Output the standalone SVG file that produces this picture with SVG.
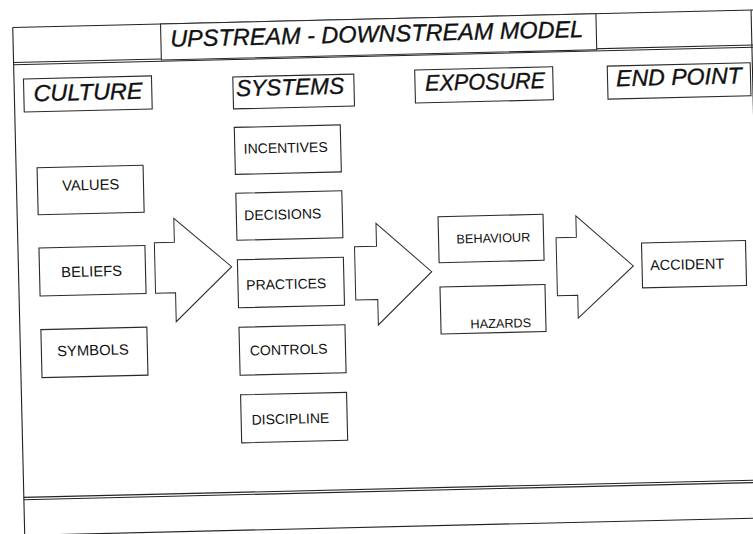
<svg xmlns="http://www.w3.org/2000/svg" width="753" height="534" viewBox="0 0 753 534">
<style>
.frame{fill:none;stroke:#222;stroke-width:1.1}
.box{fill:#fff;stroke:#2a2a2a;stroke-width:1.1}
.arrow{fill:#fff;stroke:#2a2a2a;stroke-width:1;stroke-linejoin:miter}
.h{font-family:"Liberation Sans",Arial,sans-serif;font-style:italic;fill:#111;stroke:#111;stroke-width:0.35;text-anchor:middle}
.t{font-family:"Liberation Sans",Arial,sans-serif;fill:#111;text-anchor:middle}
</style>
<rect width="753" height="534" fill="#fff"/>
<g transform="rotate(-1.35 376 267)">
<g id="frame">
<line class="frame" x1="18.5" y1="19" x2="760" y2="19"/>
<line class="frame" x1="18.5" y1="19" x2="18.5" y2="545"/>
<line class="frame" x1="757" y1="19" x2="757" y2="545"/>
<line class="frame" x1="18.5" y1="54" x2="760" y2="54"/>
<line class="frame" x1="18.5" y1="56.2" x2="760" y2="56.2" stroke="#555"/>
<line class="frame" x1="18.5" y1="489" x2="760" y2="489"/>
<line class="frame" x1="18.5" y1="491.4" x2="760" y2="491.4"/>
<line class="frame" x1="18.5" y1="527" x2="760" y2="527"/>
</g>
<g id="title">
<rect class="box" x="166.3" y="19" width="435.5" height="36"/>
<text class="h" x="382.2" y="42" font-size="23.5" textLength="413" lengthAdjust="spacingAndGlyphs">UPSTREAM - DOWNSTREAM MODEL</text>
</g>
<g id="hdr-culture">
<rect class="box" x="28" y="70.7" width="128" height="33"/>
<text class="h" x="92.2" y="93.2" font-size="23" textLength="109" lengthAdjust="spacingAndGlyphs">CULTURE</text>
</g>
<g id="hdr-systems">
<rect class="box" x="237.3" y="73.6" width="121" height="32"/>
<text class="h" x="294.3" y="93" font-size="23" textLength="108" lengthAdjust="spacingAndGlyphs">SYSTEMS</text>
</g>
<g id="hdr-exposure">
<rect class="box" x="419.3" y="71" width="138" height="33"/>
<text class="h" x="489.4" y="92" font-size="22.5" textLength="120" lengthAdjust="spacingAndGlyphs">EXPOSURE</text>
</g>
<g id="hdr-endpoint">
<rect class="box" x="611.9" y="71.6" width="143" height="33"/>
<text class="h" x="683.3" y="92" font-size="23" textLength="125.7" lengthAdjust="spacingAndGlyphs">END POINT</text>
</g>
<g id="connectors">
<polygon class="arrow" points="155,237.5 175,237.5 175,213.6 231.7,263.3 175,317 175,288.1 155,288.1"/>
<polygon class="arrow" points="355,246.2 377,246.2 377,223.3 431.6,273 377,325 377,299.5 355,299.5"/>
<polygon class="arrow" points="556.7,242 577,242 577,220.7 633.3,272 577,322.8 577,300 556.7,300"/>
</g>
<g id="values">
<rect class="box" x="39.5" y="159.8" width="106" height="47"/>
<text class="t" x="92.7" y="183.3" font-size="14.8">VALUES</text>
</g>
<g id="beliefs">
<rect class="box" x="39.5" y="240.1" width="106" height="48"/>
<text class="t" x="91.6" y="269.8" font-size="14.8">BELIEFS</text>
</g>
<g id="symbols">
<rect class="box" x="39.5" y="321.7" width="106" height="48"/>
<text class="t" x="91" y="348.6" font-size="14.8">SYMBOLS</text>
</g>
<g id="incentives">
<rect class="box" x="237.6" y="124.1" width="106" height="47"/>
<text class="t" x="288.5" y="150.6" font-size="14">INCENTIVES</text>
</g>
<g id="decisions">
<rect class="box" x="237.6" y="190" width="106" height="47"/>
<text class="t" x="284" y="217.1" font-size="14">DECISIONS</text>
</g>
<g id="practices">
<rect class="box" x="237.6" y="256.5" width="106" height="48"/>
<text class="t" x="285.9" y="286.9" font-size="14">PRACTICES</text>
</g>
<g id="controls">
<rect class="box" x="237.6" y="324" width="106" height="48"/>
<text class="t" x="286.8" y="352.4" font-size="14">CONTROLS</text>
</g>
<g id="discipline">
<rect class="box" x="237.6" y="391.6" width="106" height="48"/>
<text class="t" x="286.9" y="421.7" font-size="14">DISCIPLINE</text>
</g>
<g id="behaviour">
<rect class="box" x="439.2" y="218.2" width="105" height="46"/>
<text class="t" x="494" y="245.3" font-size="12.7">BEHAVIOUR</text>
</g>
<g id="hazards">
<rect class="box" x="439.5" y="288.5" width="105" height="47"/>
<text class="t" x="499.4" y="330.7" font-size="12.7">HAZARDS</text>
</g>
<g id="accident">
<rect class="box" x="642" y="249.2" width="104" height="45"/>
<text class="t" x="687.1" y="276.7" font-size="14.5">ACCIDENT</text>
</g>
</g>
</svg>
